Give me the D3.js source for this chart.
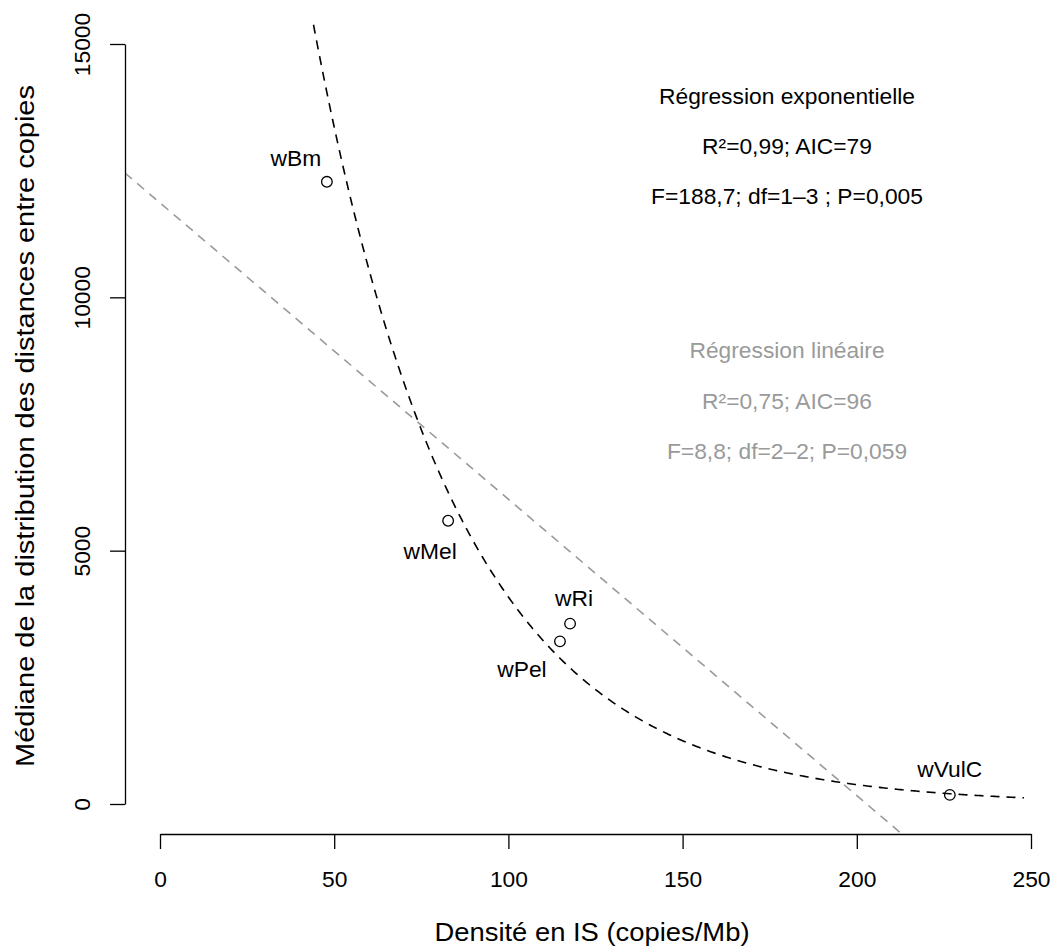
<!DOCTYPE html>
<html>
<head>
<meta charset="utf-8">
<script src="https://cdn.jsdelivr.net/npm/d3@7"></script>
<style>
  body { margin: 0; background: #fff; }
  svg { display: block; font-family: "Liberation Sans", Arial, Helvetica, sans-serif; }
</style>
</head>
<body>
<div id="chart"></div>
<script>
// Strains: IS density (copies/Mb) vs median distance between copies
const strains = ["wBm", "wMel", "wRi", "wPel", "wVulC"];
const density = [47.9, 82.7, 117.7, 114.8, 226.7];
const medianDist = [12280, 5590, 3560, 3210, 180];

// fitted models
const expFit = { a: 43700, b: -0.0237, from: 40, to: 248 };
const linFit = { intercept: 11865, slope: -58.5 };

const xTicks = [0, 50, 100, 150, 200, 250];
const yTicks = [0, 5000, 10000, 15000];

const expText = ["Régression exponentielle", "R²=0,99; AIC=79", "F=188,7; df=1–3 ; P=0,005"];
const linText = ["Régression linéaire", "R²=0,75; AIC=96", "F=8,8; df=2–2; P=0,059"];

const width = 1054, height = 951;
const grey = "#9a9a9a";
const fontSize = 22.8;

const svg = d3.select("#chart").append("svg")
    .attr("width", width)
    .attr("height", height);

const x = d3.scaleLinear().domain([0, 250]).range([160, 1031]);
const y = d3.scaleLinear().domain([0, 15000]).range([804, 44]);

// plot region clip (R usr box)
svg.append("clipPath").attr("id", "plotclip")
  .append("rect").attr("x", 125).attr("y", 18).attr("width", 912).attr("height", 816);

const plot = svg.append("g").attr("clip-path", "url(#plotclip)");

// linear regression (grey dashed)
const xl0 = x.invert(125), xl1 = x.invert(1037);
plot.append("line")
    .attr("x1", x(xl0)).attr("y1", y(linFit.intercept + linFit.slope * xl0))
    .attr("x2", x(xl1)).attr("y2", y(linFit.intercept + linFit.slope * xl1))
    .attr("stroke", grey).attr("stroke-width", 1.6)
    .attr("stroke-dasharray", "9,7");

// exponential regression (black dashed)
const curveX = d3.range(expFit.from, expFit.to + 0.01, 0.5);
plot.append("path")
    .datum(curveX)
    .attr("fill", "none")
    .attr("stroke", "#000").attr("stroke-width", 1.6)
    .attr("stroke-dasharray", "9,7")
    .attr("d", d3.line().x(d => x(d)).y(d => y(expFit.a * Math.exp(expFit.b * d))));

// points
const pts = strains.map((s, i) => ({ name: s, x: density[i], y: medianDist[i] }));
svg.append("g").selectAll("circle")
    .data(pts)
    .enter().append("circle")
    .attr("cx", d => x(d.x))
    .attr("cy", d => y(d.y))
    .attr("r", 5.3)
    .attr("fill", "none")
    .attr("stroke", "#000")
    .attr("stroke-width", 1.3);

// label offsets (px) relative to points
const labelOffset = {
    wBm: [-31, -16],
    wMel: [-18, 38],
    wRi: [4, -18],
    wPel: [-38, 36],
    wVulC: [0, -18]
};
svg.append("g").selectAll("text")
    .data(pts)
    .enter().append("text")
    .attr("x", d => x(d.x) + labelOffset[d.name][0])
    .attr("y", d => y(d.y) + labelOffset[d.name][1])
    .attr("text-anchor", "middle")
    .attr("font-size", fontSize)
    .text(d => d.name);

// x axis
const xAxis = svg.append("g")
    .attr("transform", "translate(0,834)")
    .call(d3.axisBottom(x).tickValues(xTicks).tickSize(15).tickSizeOuter(0).tickPadding(22));
xAxis.selectAll("text").attr("font-size", fontSize).attr("fill", "#000")
    .attr("font-family", "Liberation Sans, Arial, sans-serif");
xAxis.selectAll("line, path").attr("stroke", "#000").attr("stroke-width", 1.3);

// y axis
const yAxis = svg.append("g")
    .attr("transform", "translate(125,0)")
    .call(d3.axisLeft(y).tickValues(yTicks).tickSize(15).tickSizeOuter(0).tickFormat(d3.format("d")));
yAxis.selectAll("text")
    .attr("font-size", fontSize).attr("fill", "#000")
    .attr("font-family", "Liberation Sans, Arial, sans-serif")
    .attr("transform", "rotate(-90)")
    .attr("x", 0).attr("y", -43).attr("dy", "0.35em")
    .attr("text-anchor", "middle");
yAxis.selectAll("line, path").attr("stroke", "#000").attr("stroke-width", 1.3);

// axis titles
svg.append("text")
    .attr("x", 592).attr("y", 941)
    .attr("text-anchor", "middle")
    .attr("font-size", 25)
    .attr("textLength", 315)
    .attr("lengthAdjust", "spacingAndGlyphs")
    .text("Densité en IS (copies/Mb)");

svg.append("text")
    .attr("transform", "translate(34,426) rotate(-90)")
    .attr("text-anchor", "middle")
    .attr("font-size", 26)
    .attr("textLength", 682)
    .attr("lengthAdjust", "spacingAndGlyphs")
    .text("Médiane de la distribution des distances entre copies");

// regression annotations
svg.append("g").selectAll("text")
    .data(expText)
    .enter().append("text")
    .attr("x", 787)
    .attr("y", (d, i) => 104 + i * 50)
    .attr("text-anchor", "middle")
    .attr("font-size", fontSize)
    .attr("fill", "#000")
    .text(d => d);

svg.append("g").selectAll("text")
    .data(linText)
    .enter().append("text")
    .attr("x", 787)
    .attr("y", (d, i) => 358 + i * 50.5)
    .attr("text-anchor", "middle")
    .attr("font-size", fontSize)
    .attr("fill", grey)
    .text(d => d);
</script>
</body>
</html>
